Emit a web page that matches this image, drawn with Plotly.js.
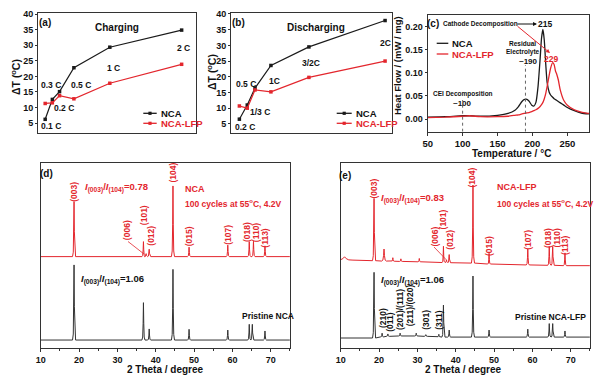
<!DOCTYPE html>
<html><head><meta charset="utf-8">
<script src="https://cdn.plot.ly/plotly-3.0.1.min.js"></script>
<style>html,body{margin:0;padding:0;background:#fff}#chart{width:600px;height:380px}</style>
</head><body><div id="chart"></div>
<script>
// ---------- DATA ----------
// (a) Charging
const aRate = [0.1, 0.2, 0.3, 0.5, 1, 2];
const aLabels = ['0.1 C', '0.2 C', '0.3 C', '0.5 C', '1 C', '2 C'];
const aNCA = [6.2, 12.6, 15.1, 22.8, 29.4, 34.9];
const aLFP = [11.3, 11.5, 13.8, 12.8, 17.8, 23.9];
// (b) Discharging (hidden x position)
const bPos = [0.052, 0.101, 0.149, 0.248, 0.484, 0.957];
const bLabels = ['0.2 C', '1/3 C', '0.5 C', '1C', '3/2C', '2C'];
const bNCA = [6.5, 11.0, 16.4, 23.6, 29.5, 37.9];
const bLFP = [10.7, 10.0, 15.8, 15.2, 19.8, 25.0];
// (c) DSC
const cTemp = [50,75,100,110,125,150,165,175,180,185,188,191,195,199,202,205,208,211,213,215,217,219,221,224,226,229,231,233,235,237,240,245,250,260,270,281];
const cNCA = [0.004,0.005,0.007,0.007,0.006,0.008,0.012,0.019,0.027,0.038,0.042,0.043,0.039,0.030,0.028,0.036,0.070,0.130,0.175,0.194,0.170,0.120,0.080,0.058,0.052,0.047,0.044,0.042,0.040,0.038,0.035,0.030,0.025,0.018,0.013,0.011];
const cLFP = [0.003,0.004,0.006,0.007,0.005,0.005,0.006,0.008,0.009,0.011,0.012,0.013,0.014,0.016,0.018,0.020,0.023,0.027,0.031,0.036,0.044,0.055,0.070,0.095,0.110,0.122,0.118,0.104,0.096,0.085,0.062,0.040,0.030,0.020,0.015,0.012];
// (d) NCA XRD: peak positions (2θ), peak tops, baseline (offset intensity units)
const dHkl = ['(003)','(101)','(006)','(012)','(104)','(015)','(107)','(018)','(110)','(113)'];
const dRedPos = [18.7, 36.8, 37.5, 38.3, 44.5, 48.7, 58.8, 64.4, 65.5, 68.5];
const dRedTop = [79.2, 57.5, 51.0, 53.4, 87.6, 54.5, 55.6, 57.5, 57.7, 55.2];
const dRedBase = 49.4;
const dBlkPos = [18.7, 36.8, 38.3, 44.5, 48.7, 58.8, 64.4, 65.2, 68.5];
const dBlkTop = [44.9, 24.5, 10.3, 42.5, 10.1, 9.7, 12.8, 12.8, 9.2];
const dBlkBase = 4.3;
// (e) NCA-LFP XRD
const eRedPos  = [11.0, 18.7, 21.3, 23.6, 25.7, 30.5, 36.8, 37.6, 38.3, 44.5, 48.7, 58.8, 64.4, 65.3, 68.5];
const eRedTop  = [49.3, 80.9, 53.5, 48.8, 48.2, 48.4, 55.0, 47.6, 50.5, 88.1, 51.2, 53.5, 54.9, 54.9, 51.4];
const eRedFoot = [47.5, 47.2, 47.0, 46.9, 46.8, 46.6, 46.2, 46.2, 46.1, 45.9, 45.4, 44.9, 44.7, 44.7, 44.5];
const eRedHW   = [2.2, 0.4, 0.6, 0.35, 0.35, 0.35, 0.35, 0.35, 0.35, 0.4, 0.35, 0.4, 0.4, 0.4, 0.4];
const eBlkHkl = ['(210)','(011)','(201)/(111)','(211)/(020)','(301)','(311)'];
const eBlkPos  = [18.7, 20.8, 22.3, 25.5, 29.7, 32.2, 35.6, 36.8, 38.3, 44.5, 48.7, 58.8, 64.4, 65.3, 68.5];
const eBlkTop  = [40.9, 8.0, 7.6, 8.0, 8.0, 7.2, 7.4, 23.2, 9.7, 38.9, 9.7, 10.2, 13.2, 13.2, 9.2];
const eBlkFoot = [5.4, 6.0, 6.3, 6.5, 6.5, 6.3, 6.0, 5.9, 5.9, 5.9, 5.9, 5.9, 5.9, 5.9, 5.9];

// ---------- STYLE ----------
const F = "'Liberation Sans',Arial,sans-serif";
const RED = '#e3262d', BLK = '#1a1a1a';
const P = px => px / 600, Q = py => 1 - py / 380;
function fnt(size, color) { return {family: F, size: size, color: color || '#111', weight: 'bold'}; }
function T(text, px, py, size, color, xa, angle) {
  return {text: text, x: P(px), y: Q(py), xref: 'paper', yref: 'paper', showarrow: false,
    xanchor: xa || 'center', yanchor: 'middle', textangle: angle || 0, font: fnt(size, color)};
}
function pattern(pos, top, foot, hw, x0, x1) {
  const xs = [], ys = [];
  const B = i => Array.isArray(foot) ? foot[i] : foot;
  const W = i => Array.isArray(hw) ? hw[i] : hw;
  xs.push(x0); ys.push(B(0));
  const prof = [[-1,0],[-0.5,0.08],[-0.2,0.45],[0,1],[0.2,0.45],[0.5,0.08],[1,0]];
  pos.forEach((p, i) => {
    const b = B(i), h = top[i] - b, w = W(i);
    prof.forEach(([f, g]) => { xs.push(p + f * w); ys.push(b + g * h); });
  });
  xs.push(x1); ys.push(B(pos.length - 1));
  return {x: xs, y: ys};
}

const traces = [];
traces.push({x: aRate, y: aNCA, xaxis: 'x', yaxis: 'y', mode: 'lines+markers', line: {color: BLK, width: 1.2}, marker: {symbol: 'square', size: 3.5, color: BLK}});
traces.push({x: aRate, y: aLFP, xaxis: 'x', yaxis: 'y', mode: 'lines+markers', line: {color: RED, width: 1.2}, marker: {symbol: 'square', size: 3.5, color: RED}});
traces.push({x: bPos, y: bNCA, xaxis: 'x2', yaxis: 'y2', mode: 'lines+markers', line: {color: BLK, width: 1.2}, marker: {symbol: 'square', size: 3.5, color: BLK}});
traces.push({x: bPos, y: bLFP, xaxis: 'x2', yaxis: 'y2', mode: 'lines+markers', line: {color: RED, width: 1.2}, marker: {symbol: 'square', size: 3.5, color: RED}});
traces.push({x: cTemp, y: cNCA, xaxis: 'x3', yaxis: 'y3', mode: 'lines', line: {color: BLK, width: 1.3, shape: 'spline', smoothing: 0.5}});
traces.push({x: cTemp, y: cLFP, xaxis: 'x3', yaxis: 'y3', mode: 'lines', line: {color: RED, width: 1.3, shape: 'spline', smoothing: 0.5}});
const dR = pattern(dRedPos, dRedTop, dRedBase, 0.4, 10, 75);
const dB = pattern(dBlkPos, dBlkTop, dBlkBase, 0.4, 10, 75);
const eR = pattern(eRedPos, eRedTop, eRedFoot, eRedHW, 10, 75);
const eB = pattern(eBlkPos, eBlkTop, eBlkFoot, 0.4, 10, 75);
traces.push({x: dR.x, y: dR.y, xaxis: 'x4', yaxis: 'y4', mode: 'lines', line: {color: RED, width: 1}});
traces.push({x: dB.x, y: dB.y, xaxis: 'x4', yaxis: 'y4', mode: 'lines', line: {color: '#333', width: 1}});
traces.push({x: eR.x, y: eR.y, xaxis: 'x5', yaxis: 'y5', mode: 'lines', line: {color: RED, width: 1}});
traces.push({x: eB.x, y: eB.y, xaxis: 'x5', yaxis: 'y5', mode: 'lines', line: {color: '#333', width: 1}});

const ax = {showline: true, linecolor: '#333', linewidth: 1, mirror: true, zeroline: false, showgrid: false,
  ticks: 'outside', ticklen: 3, tickcolor: '#333', tickfont: fnt(9)};
const layout = {
  width: 600, height: 380, margin: {l: 0, r: 0, t: 0, b: 0}, showlegend: false,
  paper_bgcolor: '#fff', plot_bgcolor: 'rgba(0,0,0,0)',
  xaxis: Object.assign({}, ax, {domain: [P(38), P(196)], range: [0, 2.2], showticklabels: false, ticks: '', anchor: 'y'}),
  yaxis: Object.assign({}, ax, {domain: [Q(133), Q(13)], range: [1.8, 40.4], tick0: 0, dtick: 5, anchor: 'x', ticklen: 2}),
  xaxis2: Object.assign({}, ax, {domain: [P(231), P(392)], range: [0, 1], showticklabels: false, ticks: '', anchor: 'y2'}),
  yaxis2: Object.assign({}, ax, {domain: [Q(133), Q(13)], range: [2.1, 40.3], tick0: 0, dtick: 5, anchor: 'x2', ticklen: 2}),
  xaxis3: Object.assign({}, ax, {domain: [P(427.7), P(589)], range: [50, 281], tick0: 0, dtick: 50, anchor: 'y3', tickfont: fnt(9.5)}),
  yaxis3: Object.assign({}, ax, {domain: [Q(131.7), Q(15)], range: [-0.0275, 0.2253], tick0: 0, dtick: 0.05, tickformat: '.2f', anchor: 'x3', tickfont: fnt(9), ticklen: 2}),
  xaxis4: Object.assign({}, ax, {domain: [P(40.7), P(289.9)], range: [10, 75], tick0: 0, dtick: 10, anchor: 'y4',
    minor: {dtick: 5, ticks: 'outside', ticklen: 2, tickcolor: '#333'}}),
  yaxis4: Object.assign({}, ax, {domain: [Q(348), Q(163)], range: [0, 100], showticklabels: false, ticks: '', anchor: 'x4'}),
  xaxis5: Object.assign({}, ax, {domain: [P(340.7), P(589.9)], range: [10, 75], tick0: 0, dtick: 10, anchor: 'y5',
    minor: {dtick: 5, ticks: 'outside', ticklen: 2, tickcolor: '#333'}}),
  yaxis5: Object.assign({}, ax, {domain: [Q(348), Q(163)], range: [0, 100], showticklabels: false, ticks: '', anchor: 'x5'}),
  annotations: [], shapes: []
};
const A = layout.annotations, S = layout.shapes;

// ----- (a) -----
A.push(T('(a)', 45, 23, 10));
A.push(T('Charging', 116.7, 27.3, 10));
const aLabPos = [[51, 126], [64, 107.7], [51, 85], [80.5, 85], [113, 68.3], [183, 47.7]];
aLabels.forEach((t, i) => A.push(T(t, aLabPos[i][0], aLabPos[i][1], 8.5)));
A.push(T('ΔT (<sup>o</sup>C)', 16, 77, 10.5, '#111', 'center', -90));
// ----- (b) -----
A.push(T('(b)', 238.5, 23, 10));
A.push(T('Discharging', 315.5, 27.3, 10));
const bLabPos = [[245, 126.7], [260, 111.7], [246, 84], [274, 80.7], [311, 63], [385, 43.3]];
bLabels.forEach((t, i) => A.push(T(t, bLabPos[i][0], bLabPos[i][1], 8.5)));
A.push(T('ΔT (<sup>o</sup>C)', 211, 72, 10.5, '#111', 'center', -90));
// legends (a),(b)
function legend(x0, x1, y, color, label, marker) {
  S.push({type: 'line', xref: 'paper', yref: 'paper', x0: P(x0), x1: P(x1), y0: Q(y), y1: Q(y), line: {color: color, width: 1.3}});
  if (marker) { const m = (x0 + x1) / 2;
    S.push({type: 'rect', xref: 'paper', yref: 'paper', x0: P(m - 1.6), x1: P(m + 1.6), y0: Q(y + 1.6), y1: Q(y - 1.6), fillcolor: color, line: {width: 0}}); }
  A.push(T(label, x1 + 2, y, 9.5, color === RED ? RED : '#111', 'left'));
}
legend(143.3, 156.7, 113.3, BLK, 'NCA', true);
legend(143.3, 156.7, 123.3, RED, 'NCA-LFP', true);
legend(336.7, 351.7, 113.3, BLK, 'NCA', true);
legend(336.7, 351.7, 123.3, RED, 'NCA-LFP', true);
// ----- (c) -----
A.push(T('(c)', 433, 24, 10));
legend(436.7, 448.3, 43.3, BLK, 'NCA', false);
legend(436.7, 448.3, 54, RED, 'NCA-LFP', false);
A.push(T('Heat Flow / (mW / mg)', 397, 66, 9.5, '#111', 'center', -90));
A.push(T('Temperature / °C', 511.7, 154, 10));
A.push(T('Cathode Decomposition', 480, 24, 6.5));
A.push(T('215', 544.5, 24, 8.5));
A.push(T('229', 551, 58.7, 8.5, RED));
A.push(T('Residual', 522, 43.3, 6.5));
A.push(T('Electrolyte', 522.5, 52.3, 6.5));
A.push(T('~190', 528, 61.5, 8));
A.push(T('CEI Decomposition', 462.5, 94.3, 6.5));
A.push(T('~100', 462.5, 103.3, 8));
A.push({text: '', x: P(537), y: Q(24), xref: 'paper', yref: 'paper', ax: -21, ay: 0, showarrow: true, arrowhead: 2, arrowsize: 0.8, arrowwidth: 1, arrowcolor: '#111'});
A.push({text: '', x: P(550), y: Q(53), xref: 'paper', yref: 'paper', ax: -34, ay: -28, showarrow: true, arrowhead: 2, arrowsize: 0.8, arrowwidth: 1, arrowcolor: RED});
S.push({type: 'line', xref: 'x3', yref: 'y3', x0: 100, x1: 100, y0: -0.0275, y1: 0.041, line: {color: '#666', width: 1, dash: 'dot'}});
S.push({type: 'line', xref: 'x3', yref: 'y3', x0: 190, x1: 190, y0: -0.0275, y1: 0.117, line: {color: '#666', width: 1, dash: 'dot'}});
// ----- (d) -----
A.push(T('(d)', 46, 173, 10));
function hklLabel(text, xref, xval, py, color, shift) {
  A.push({text: text, x: xval, y: Q(py), xref: xref, yref: 'paper', showarrow: false, xanchor: 'center', yanchor: 'middle',
    textangle: -90, font: fnt(8.5, color), xshift: shift || 0});
}
const dLabY = [191.7, 214.7, 230, 236, 172.5, 236.3, 235, 231.7, 231.7, 237.7];
const dLabShift = [0, 0, -19, 1.5, 0, 0, 0, -3, 2, 0];
dHkl.forEach((t, i) => hklLabel(t, 'x4', dRedPos[i], dLabY[i], RED, dLabShift[i]));
S.push({type: 'line', xref: 'paper', yref: 'paper', x0: P(128), y0: Q(241.5), x1: P(144), y1: Q(254), line: {color: RED, width: 0.8}});
A.push(T('<i>I</i><sub>(003)</sub>/<i>I</i><sub>(104)</sub>=0.78', 116, 187, 9.5, RED));
A.push(T('NCA', 183, 189, 9, RED, 'left'));
A.push(T('100 cycles at 55<sup>o</sup>C, 4.2V', 183, 203.3, 8.5, RED, 'left'));
A.push(T('<i>I</i><sub>(003)</sub>/<i>I</i><sub>(104)</sub>=1.06', 112, 279.3, 9.5));
A.push(T('Pristine NCA', 240, 315.5, 8.5, '#111', 'left'));
A.push(T('2 Theta / degree', 165, 369, 10));
// ----- (e) -----
A.push(T('(e)', 345, 175, 10));
const eHklIdx = [1, 6, 7, 8, 9, 10, 11, 12, 13, 14];
const eLabY = [188.5, 219, 237, 240, 177.5, 246, 240, 237.8, 237.8, 245];
const eLabShift = [0, 0, -12, 0.5, 0, 0, 0, -1, 4, 0];
const eLabText = ['(003)', '(101)', '(006)', '(012)', '(104)', '(015)', '(107)', '(018)', '(110)', '(113)'];
eHklIdx.forEach((k, i) => hklLabel(eLabText[i], 'x5', eRedPos[k], eLabY[i], RED, eLabShift[i]));
S.push({type: 'line', xref: 'paper', yref: 'paper', x0: P(434), y0: Q(247), x1: P(446.5), y1: Q(260), line: {color: RED, width: 0.8}});
const eBlkLabIdx = [1, 2, 3, 4, 5, 6];
const eBlkLabY = [318, 322, 310, 305, 320, 320];
const eBlkLabShift = [1, 2, 0, -6, 0, 0];
eBlkHkl.forEach((t, i) => hklLabel(t, 'x5', eBlkPos[eBlkLabIdx[i]], eBlkLabY[i], '#111', eBlkLabShift[i]));
A.push(T('<i>I</i><sub>(003)</sub>/<i>I</i><sub>(104)</sub>=0.83', 412, 198.3, 9.5, RED));
A.push(T('NCA-LFP', 495, 187, 9, RED, 'left'));
A.push(T('100 cycles at 55<sup>o</sup>C, 4.2V', 495, 203.3, 8.5, RED, 'left'));
A.push(T('<i>I</i><sub>(003)</sub>/<i>I</i><sub>(104)</sub>=1.06', 412, 280, 9.5));
A.push(T('Pristine NCA-LFP', 513, 316.7, 8.5, '#111', 'left'));
A.push(T('2 Theta / degree', 463.3, 369, 10));

Plotly.newPlot('chart', traces, layout, {staticPlot: true, displayModeBar: false});
</script></body></html>
